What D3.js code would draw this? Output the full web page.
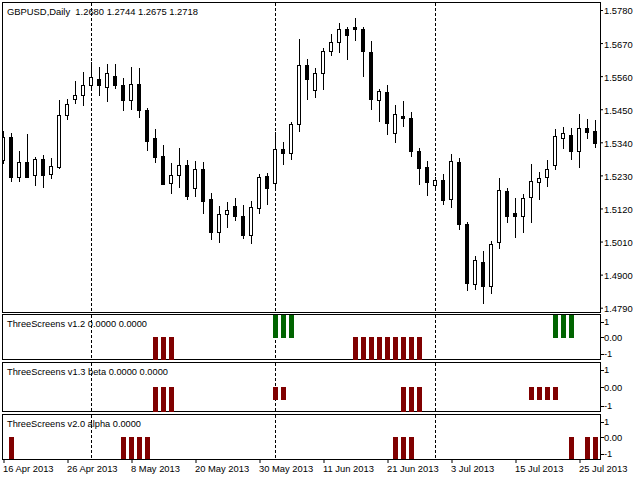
<!DOCTYPE html>
<html><head><meta charset="utf-8">
<script src="https://cdn.jsdelivr.net/npm/d3@7"></script>
<style>
html,body{margin:0;padding:0;background:#fff;overflow:hidden}
svg text{font-family:"Liberation Sans",Arial,sans-serif;font-size:9.4px;fill:#000}
</style>
</head><body>
<svg id="c" width="640" height="480"></svg>
<script>
// ---------------- data ----------------
const dates = [
"2013-04-16","2013-04-17","2013-04-18","2013-04-19","2013-04-22","2013-04-23","2013-04-24","2013-04-25","2013-04-26","2013-04-29","2013-04-30",
"2013-05-01","2013-05-02","2013-05-03","2013-05-06","2013-05-07","2013-05-08","2013-05-09","2013-05-10","2013-05-13","2013-05-14","2013-05-15",
"2013-05-16","2013-05-17","2013-05-20","2013-05-21","2013-05-22","2013-05-23","2013-05-24","2013-05-27","2013-05-28","2013-05-29","2013-05-30","2013-05-31",
"2013-06-03","2013-06-04","2013-06-05","2013-06-06","2013-06-07","2013-06-10","2013-06-11","2013-06-12","2013-06-13","2013-06-14","2013-06-17",
"2013-06-18","2013-06-19","2013-06-20","2013-06-21","2013-06-24","2013-06-25","2013-06-26","2013-06-27","2013-06-28",
"2013-07-01","2013-07-02","2013-07-03","2013-07-04","2013-07-05","2013-07-08","2013-07-09","2013-07-10","2013-07-11","2013-07-12","2013-07-15",
"2013-07-16","2013-07-17","2013-07-18","2013-07-19","2013-07-22","2013-07-23","2013-07-24","2013-07-25","2013-07-26","2013-07-29"];

const open = [
1.5281,1.5357,1.5226,1.5274,1.5230,1.5284,1.5234,1.5259,1.5432,1.5483,
1.5496,1.5530,1.5550,1.5525,1.5560,1.5530,1.5480,1.5533,1.5447,1.5353,
1.5295,1.5204,1.5230,1.5264,1.5187,1.5250,1.5151,1.5043,1.5101,1.5127,
1.5094,1.5033,1.5123,1.5227,1.5204,1.5317,1.5306,1.5400,1.5596,1.5513,
1.5570,1.5643,1.5673,1.5716,1.5723,1.5716,1.5639,1.5481,1.5506,1.5370,
1.5427,1.5421,1.5310,1.5257,1.5197,1.5214,1.5151,1.5275,1.5067,1.4868,
1.4942,1.4861,1.5008,1.5177,1.5105,1.5094,1.5157,1.5207,1.5224,1.5264,
1.5353,1.5363,1.5310,1.5387,1.5377];
const high = [
1.5376,1.5370,1.5311,1.5368,1.5290,1.5298,1.5287,1.5481,1.5484,1.5544,
1.5575,1.5606,1.5590,1.5600,1.5600,1.5553,1.5590,1.5586,1.5454,1.5383,
1.5330,1.5270,1.5321,1.5281,1.5277,1.5274,1.5173,1.5128,1.5142,1.5154,
1.5131,1.5145,1.5234,1.5237,1.5373,1.5341,1.5409,1.5683,1.5616,1.5586,
1.5653,1.5699,1.5736,1.5722,1.5752,1.5722,1.5676,1.5516,1.5530,1.5463,
1.5476,1.5440,1.5321,1.5278,1.5225,1.5235,1.5301,1.5288,1.5076,1.4962,
1.4979,1.5012,1.5221,1.5187,1.5154,1.5168,1.5268,1.5240,1.5281,1.5384,
1.5391,1.5388,1.5433,1.5418,1.5414];
const low = [
1.5270,1.5212,1.5212,1.5223,1.5199,1.5192,1.5222,1.5255,1.5417,1.5470,
1.5464,1.5519,1.5496,1.5478,1.5520,1.5447,1.5450,1.5423,1.5313,1.5276,
1.5200,1.5171,1.5192,1.5153,1.5163,1.5106,1.5018,1.5010,1.5060,1.5082,
1.5022,1.5004,1.5106,1.5136,1.5182,1.5269,1.5286,1.5379,1.5485,1.5492,
1.5518,1.5631,1.5641,1.5616,1.5679,1.5562,1.5450,1.5412,1.5367,1.5340,
1.5395,1.5296,1.5200,1.5164,1.5182,1.5134,1.5126,1.5052,1.4849,1.4853,
1.4807,1.4840,1.4990,1.5074,1.5024,1.5041,1.5074,1.5153,1.5194,1.5252,
1.5322,1.5285,1.5259,1.5353,1.5325];
const close = [
1.5357,1.5226,1.5274,1.5226,1.5284,1.5232,1.5260,1.5430,1.5466,1.5496,
1.5530,1.5556,1.5530,1.5570,1.5530,1.5480,1.5533,1.5447,1.5343,1.5292,
1.5203,1.5231,1.5264,1.5163,1.5250,1.5146,1.5043,1.5101,1.5114,1.5094,
1.5033,1.5124,1.5224,1.5189,1.5317,1.5306,1.5400,1.5596,1.5552,1.5570,
1.5643,1.5673,1.5716,1.5696,1.5718,1.5643,1.5483,1.5510,1.5403,1.5433,
1.5420,1.5310,1.5256,1.5207,1.5214,1.5149,1.5277,1.5069,1.4873,1.4949,
1.4861,1.5001,1.5181,1.5096,1.5096,1.5154,1.5210,1.5220,1.5250,1.5360,
1.5370,1.5310,1.5387,1.5375,1.5337];

// indicator windows
const ts12 = [
0,0,0,0,0,0,0,0,0,0,
0,0,0,0,0,0,0,0,0,-1,
-1,-1,0,0,0,0,0,0,0,0,
0,0,0,0,1,1,1,0,0,0,
0,0,0,0,-1,-1,-1,-1,-1,-1,
-1,-1,-1,0,0,0,0,0,0,0,
0,0,0,0,0,0,0,0,0,1,
1,1,0,0,0];
const ts13 = [
0,0,0,0,0,0,0,0,0,0,
0,0,0,0,0,0,0,0,0,-1,
-1,-1,0,0,0,0,0,0,0,0,
0,0,0,0,-0.5,-0.5,0,0,0,0,
0,0,0,0,0,0,0,0,0,0,
-1,-1,-1,0,0,0,0,0,0,0,
0,0,0,0,0,0,-0.5,-0.5,-0.5,-0.5,
0,0,0,0,0];
const ts20 = [
0,-1,0,0,0,0,0,0,0,0,
0,0,0,0,0,-1,-1,-1,-1,0,
0,0,0,0,0,0,0,0,0,0,
0,0,0,0,0,0,0,0,0,0,
0,0,0,0,0,0,0,0,0,-1,
-1,-1,0,0,0,0,0,0,0,0,
0,0,0,0,0,0,0,0,0,0,
0,-1,0,-1,-1];

const priceTicks = [1.5780,1.5670,1.5560,1.5450,1.5340,1.5230,1.5120,1.5010,1.4900,1.4790];
const dateTicks = ["2013-04-16","2013-04-26","2013-05-08","2013-05-20","2013-05-30","2013-06-11","2013-06-21","2013-07-03","2013-07-15","2013-07-25"];
const dateTickLabels = ["16 Apr 2013","26 Apr 2013","8 May 2013","20 May 2013","30 May 2013","11 Jun 2013","21 Jun 2013","3 Jul 2013","15 Jul 2013","25 Jul 2013"];
const separators = ["2013-05-01","2013-06-03","2013-07-01"];
const subTickLabels = ["1","0.00","-1"];
const titleText = "GBPUSD,Daily  1.2680 1.2744 1.2675 1.2718";
const subTitles = ["ThreeScreens v1.2 0.0000 0.0000","ThreeScreens v1.3 beta 0.0000 0.0000","ThreeScreens v2.0 alpha 0.0000"];

// ---------------- drawing ----------------
const svg = d3.select("#c");
const L = 2.5, R = 600.5;
const x = d3.scalePoint().domain(dates).range([3.5, 3.5 + 8*(dates.length-1)]);
const yMain = d3.scaleLinear().domain([1.479, 1.578]).range([307.7, 10]);

const bars = dates.map((d,i)=>({d, o:open[i], h:high[i], l:low[i], c:close[i]}));

svg.append("clipPath").attr("id","cm").append("rect").attr("x",3).attr("y",3).attr("width",597).attr("height",309);

// main frame
svg.append("rect").attr("x",L).attr("y",2.5).attr("width",R-L).attr("height",310)
  .attr("fill","none").attr("stroke","#000").attr("shape-rendering","crispEdges");

const gm = svg.append("g").attr("clip-path","url(#cm)");
function seps(g, y0, y1){
  g.selectAll(null).data(separators).enter().append("line")
    .attr("x1",d=>x(d)).attr("x2",d=>x(d)).attr("y1",y0).attr("y2",y1)
    .attr("stroke","#000").attr("stroke-dasharray","3,2").attr("shape-rendering","crispEdges");
}
seps(gm, 3, 312);

// wicks
gm.selectAll(".wick").data(bars).enter().append("line")
  .attr("x1",d=>x(d.d)).attr("x2",d=>x(d.d))
  .attr("y1",d=>Math.round(yMain(d.h))).attr("y2",d=>Math.round(yMain(d.l))+1)
  .attr("stroke","#000").attr("shape-rendering","crispEdges");
// bodies
gm.selectAll(".body").data(bars).enter().append("rect")
  .each(function(d){
    const top = Math.round(yMain(Math.max(d.o,d.c)));
    let bot = Math.round(yMain(Math.min(d.o,d.c)));
    if (bot - top < 2) bot = top + 2;
    const s = d3.select(this).attr("shape-rendering","crispEdges");
    if (d.c > d.o) {
      s.attr("x",x(d.d)-2).attr("y",top+0.5).attr("width",3).attr("height",bot-top)
       .attr("fill","#fff").attr("stroke","#000");
    } else {
      s.attr("x",x(d.d)-2.5).attr("y",top).attr("width",4).attr("height",bot-top+1)
       .attr("fill","#000");
    }
  });

// price axis
const ay = svg.append("g").attr("transform",`translate(${R-0.5},0)`)
  .call(d3.axisRight(yMain).tickValues(priceTicks).tickSize(3).tickPadding(1).tickFormat(d3.format(".4f")));
ay.select(".domain").remove();
ay.selectAll("text").attr("font-family","Liberation Sans, Arial, sans-serif").attr("font-size",9.6).attr("fill","#000").attr("dy","0.42em");
ay.selectAll("line").attr("stroke","#000");

// title
svg.append("text").attr("x",7).attr("y",14.5).style("white-space","pre")
  .attr("textLength",191).attr("lengthAdjust","spacingAndGlyphs").text(titleText);

// sub windows
const subs = [
  {vals:ts12, top:314.5, bot:359.5, rng:[359.5,314.5], w:140},
  {vals:ts13, top:362.5, bot:411.5, rng:[412,362], w:161},
  {vals:ts20, top:414.5, bot:459.5, rng:[459,415], w:134}
];
subs.forEach((s,k)=>{
  const y = d3.scaleLinear().domain([-1,1]).range(s.rng);
  svg.append("rect").attr("x",L).attr("y",s.top).attr("width",R-L).attr("height",s.bot-s.top)
    .attr("fill","none").attr("stroke","#000").attr("shape-rendering","crispEdges");
  const g = svg.append("g");
  seps(g, s.top+0.5, s.bot);
  const data = s.vals.map((v,i)=>({d:dates[i], v})).filter(e=>e.v!==0);
  g.selectAll("rect").data(data).enter().append("rect")
    .attr("x",d=>x(d.d)-2.5).attr("width",5)
    .attr("y",d=>Math.round(Math.min(y(0),y(d.v))))
    .attr("height",d=>Math.round(Math.abs(y(d.v)-y(0))))
    .attr("fill",d=>d.v>0?"#006400":"#800000")
    .attr("shape-rendering","crispEdges");
  svg.append("text").attr("x",7).attr("y",s.top+12.5)
    .attr("textLength",s.w).attr("lengthAdjust","spacingAndGlyphs").text(subTitles[k]);
  const ly = [s.top+7, y(0), s.bot-6];
  subTickLabels.forEach((t,j)=>{
    svg.append("line").attr("x1",R).attr("x2",R+3).attr("y1",Math.round(ly[j])+0.5).attr("y2",Math.round(ly[j])+0.5)
      .attr("stroke","#000").attr("shape-rendering","crispEdges");
    svg.append("text").attr("x",604).attr("y",ly[j]).attr("dy","0.38em").attr("font-size",9.6).text(t);
  });
});

// date axis
const ax = svg.append("g").attr("transform","translate(0,459)")
  .call(d3.axisBottom(x).tickValues(dateTicks).tickSize(4).tickPadding(2)
        .tickFormat(d=>dateTickLabels[dateTicks.indexOf(d)]));
ax.select(".domain").remove();
ax.selectAll("line").attr("stroke","#000");
ax.selectAll("text").attr("text-anchor","start").attr("dx","-1")
  .attr("font-family","Liberation Sans, Arial, sans-serif").attr("font-size",9.4).attr("fill","#000");
</script>
</body></html>
